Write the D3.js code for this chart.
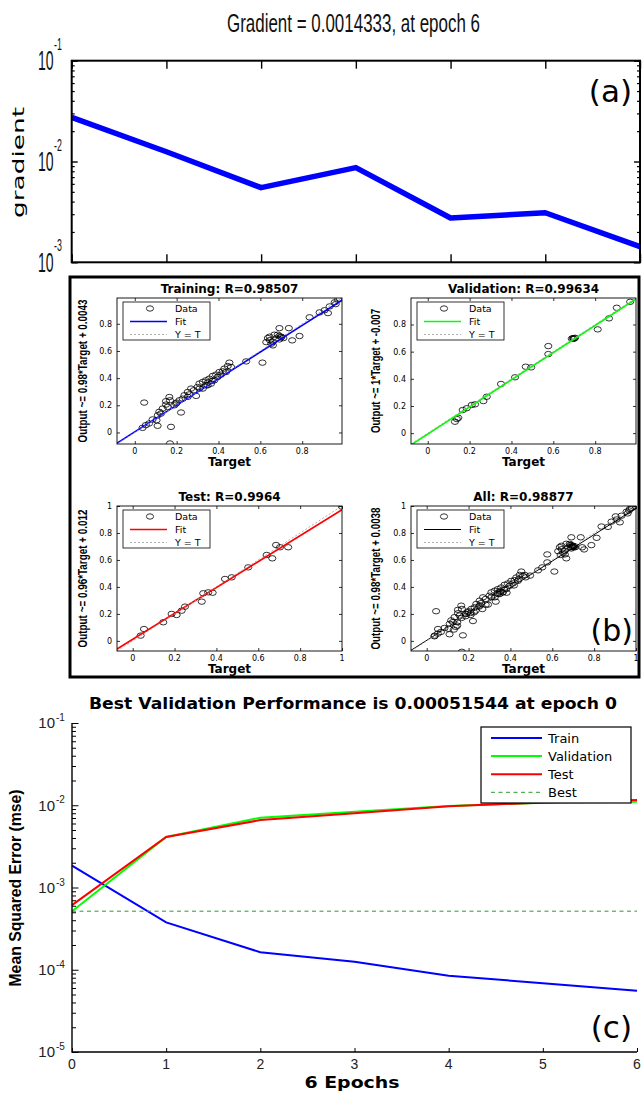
<!DOCTYPE html>
<html><head><meta charset="utf-8">
<script src="https://cdn.jsdelivr.net/npm/d3@7"></script>
<style>body{margin:0;background:#fff}svg{display:block}</style>
</head><body>
<script>
// ---------------- DATA ----------------
// (a) gradient
const gradEpochs = [0, 1, 2, 3, 4, 5, 6];
const gradValues = [0.0274, 0.0125, 0.0055, 0.0087, 0.00275, 0.0031, 0.0014333];
const gradMajor = [1e-3, 1e-2, 1e-1];
const gradMajorExp = ["-3", "-2", "-1"];
const gradTitle = "Gradient = 0.0014333, at epoch 6";

// (b) regression
const regTicks = [0, 0.2, 0.4, 0.6, 0.8, 1];
const regTickLabels = ["0", "0.2", "0.4", "0.6", "0.8", "1"];
const regTitles = ["Training: R=0.98507", "Validation: R=0.99634", "Test: R=0.9964", "All: R=0.98877"];
const regYLabels = ["Output ~= 0.98*Target + 0.0043", "Output ~= 1*Target + -0.007", "Output ~= 0.96*Target + 0.012", "Output ~= 0.98*Target + 0.0038"];
const fitSlope = [0.98, 1, 0.96, 0.98];
const fitIntercept = [0.0043, -0.007, 0.012, 0.0038];
const legendLabels = ["Data", "Fit", "Y = T"];

const trainTarget = [0.045,0.037,0.053,0.109,0.104,0.11,0.117,0.133,0.149,0.157,0.165,0.168,0.173,0.168,0.221,0.197,0.213,0.237,0.253,0.269,0.293,0.3,0.309,0.325,0.34,0.356,0.372,0.388,0.404,0.428,0.444,0.452,0.436,0.348,0.325,0.532,0.61,0.636,0.628,0.644,0.66,0.676,0.691,0.699,0.652,0.691,0.736,0.752,0.787,0.835,0.883,0.923,0.931,0.955,0.971,0.907,0.667,0.683,0.66,0.068,0.085,0.253,0.229,0.189,0.125,0.309,0.38,0.396,0.412,0.42,0.46,0.364,0.34,0.282,0.149,0.70,0.71,0.645,0.69,0.2,0.35,0.37,0.26,0.98,0.96];
const trainOutput = [0.22,0.034,0.054,0.049,0.09,0.127,0.152,0.176,0.205,0.188,0.261,0.237,0.041,-0.081,0.147,0.213,0.237,0.274,0.298,0.323,0.269,0.335,0.36,0.372,0.384,0.396,0.416,0.426,0.445,0.47,0.489,0.514,0.445,0.347,0.323,0.523,0.514,0.695,0.665,0.705,0.668,0.692,0.685,0.7,0.653,0.768,0.768,0.678,0.71,0.848,0.884,0.879,0.928,0.958,0.978,0.9,0.72,0.72,0.641,0.066,0.096,0.262,0.249,0.2,0.139,0.323,0.384,0.408,0.426,0.45,0.482,0.359,0.347,0.311,0.23,0.705,0.695,0.68,0.71,0.22,0.37,0.38,0.28,0.985,0.945];

const valTarget = [0.13,0.139,0.146,0.167,0.186,0.21,0.226,0.266,0.282,0.35,0.417,0.468,0.494,0.576,0.576,0.688,0.694,0.699,0.704,0.697,0.812,0.866,0.903,0.967];
const valOutput = [0.084,0.104,0.113,0.17,0.183,0.207,0.212,0.236,0.268,0.362,0.411,0.489,0.484,0.582,0.641,0.695,0.7,0.698,0.702,0.694,0.764,0.845,0.923,0.967];

const testTarget = [0.038,0.054,0.146,0.186,0.21,0.234,0.25,0.33,0.337,0.361,0.382,0.441,0.473,0.552,0.64,0.667,0.685,0.704,0.743,1.0];
const testOutput = [0.039,0.088,0.138,0.2,0.192,0.224,0.254,0.291,0.353,0.36,0.357,0.459,0.471,0.545,0.637,0.612,0.711,0.694,0.694,0.995];

// (c) performance
const perfEpochs = [0, 1, 2, 3, 4, 5, 6];
const trainMSE = [0.00184, 0.000377, 0.000163, 0.000125, 0.0000847, 0.0000685, 0.0000556];
const valMSE = [0.00051544, 0.00412, 0.00706, 0.00835, 0.0098, 0.01074, 0.0110];
const testMSE = [0.00061, 0.00412, 0.0066, 0.0080, 0.0097, 0.0108, 0.0116];
const bestPerf = 0.00051544;
const perfMajor = [1e-5, 1e-4, 1e-3, 1e-2, 1e-1];
const perfMajorExp = ["-5", "-4", "-3", "-2", "-1"];
const perfLegend = ["Train", "Validation", "Test", "Best"];
const perfTitle = "Best Validation Performance is 0.00051544 at epoch 0";

// ---------------- DRAW ----------------
const svg = d3.select("body").append("svg").attr("width", 642).attr("height", 1095);
const defs = svg.append("defs");
const frameList = [];

function tickAxis(g, axis, scale, vals, size, tx, ty, sw) {
  const a = axis(scale).tickValues(vals).tickSizeInner(-size).tickSizeOuter(0).tickFormat(() => "");
  const s = g.append("g").attr("transform", `translate(${tx},${ty})`).call(a);
  s.select(".domain").remove();
  s.selectAll(".tick text").remove();
  s.selectAll(".tick line").attr("stroke", "#000").attr("stroke-width", sw || 1);
  return s;
}
function supLabel(g, xRight, y, base, exp, bigSize, supSize, sx, dyBase, dySup, col) {
  const gg = g.append("g").attr("transform", `translate(${xRight},${y}) scale(${sx},1)`);
  gg.append("text").attr("x", 0).attr("y", dyBase).attr("text-anchor", "end")
    .attr("font-family", "Liberation Sans").attr("font-size", bigSize).attr("fill", col).text(base);
  gg.append("text").attr("x", 1).attr("y", dySup).attr("text-anchor", "start")
    .attr("font-family", "Liberation Sans").attr("font-size", supSize).attr("fill", col).text(exp);
}

// ===== Panel (a) =====
const gA = svg.append("g");
const A = { l: 71.7, r: 640, t: 60.7, b: 262.3 };
const xA = d3.scaleLinear().domain([0, 6]).range([A.l, A.r]);
const yA = d3.scaleLog().domain([1e-3, 1e-1]).range([A.b, A.t]);
const minA = yA.ticks().filter(v => !gradMajor.some(m => Math.abs(m - v) / m < 1e-6));

gA.append("path")
  .datum(gradEpochs.map((e, i) => [e, gradValues[i]]))
  .attr("fill", "none").attr("stroke", "#0000ff").attr("stroke-width", 5.5)
  .attr("stroke-linejoin", "round")
  .attr("d", d3.line().x(d => xA(d[0])).y(d => yA(d[1])));

tickAxis(gA, d3.axisLeft, yA, gradMajor, 6, A.l, 0, 1.4);
tickAxis(gA, d3.axisLeft, yA, minA, 3, A.l, 0, 1.2);
tickAxis(gA, d3.axisRight, yA, gradMajor, 6, A.r, 0, 1.4);
tickAxis(gA, d3.axisRight, yA, minA, 3, A.r, 0, 1.2);
tickAxis(gA, d3.axisBottom, xA, gradEpochs, 8, 0, A.b, 1.4);
tickAxis(gA, d3.axisTop, xA, gradEpochs, 8, 0, A.t, 1.4);
frameList.push({ x: A.l, y: A.t, w: A.r - A.l, h: A.b - A.t, sw: 2 });

gradMajor.forEach((m, i) => {
  supLabel(gA, 53.5, yA(m), "10", gradMajorExp[i], 27, 17, 0.52, 9.5, -11, "#111");
});

gA.append("text").attr("x", 227).attr("y", 32).attr("font-family", "Liberation Sans")
  .attr("font-size", 26).attr("textLength", 253).attr("lengthAdjust", "spacingAndGlyphs")
  .attr("fill", "#111").text(gradTitle);

gA.append("text").attr("transform", "translate(24,162.5) rotate(-90)").attr("text-anchor", "middle")
  .attr("font-family", "DejaVu Sans").attr("font-size", 16).attr("textLength", 111)
  .attr("lengthAdjust", "spacingAndGlyphs").attr("fill", "#000").text("gradient");

gA.append("text").attr("x", 632).attr("y", 102).attr("text-anchor", "end")
  .attr("font-family", "DejaVu Sans").attr("font-size", 31).attr("fill", "#000").text("(a)");

// ===== Panel (b) =====
const gB = svg.append("g");
frameList.push({ x: 70, y: 277, w: 569, h: 400, sw: 3 });

const allTarget = trainTarget.concat(valTarget, testTarget);
const allOutput = trainOutput.concat(valOutput, testOutput);

const subplots = [
  { x0: 117, x1: 342, y0: 298, y1: 444, dom: [-0.085, 0.99], T: trainTarget, O: trainOutput, color: "#0000ff", yl: 143, ylx: 87 },
  { x0: 411, x1: 636, y0: 298, y1: 444, dom: [-0.08, 0.995], T: valTarget, O: valOutput, color: "#00ff00", yl: 124, ylx: 380 },
  { x0: 117, x1: 342, y0: 506, y1: 651, dom: [-0.075, 1.0], T: testTarget, O: testOutput, color: "#ff0000", yl: 138, ylx: 87 },
  { x0: 411, x1: 636, y0: 506, y1: 651, dom: [-0.075, 1.0], T: allTarget, O: allOutput, color: "#000000", yl: 142, ylx: 380 }
];

subplots.forEach((p, i) => {
  const g = gB.append("g");
  const x = d3.scaleLinear().domain(p.dom).range([p.x0, p.x1]);
  const y = d3.scaleLinear().domain(p.dom).range([p.y1, p.y0]);
  const tv = regTicks.filter(v => v >= p.dom[0] - 1e-9 && v <= p.dom[1] + 1e-9);
  const cid = "clipb" + i;
  defs.append("clipPath").attr("id", cid).append("rect")
    .attr("x", p.x0).attr("y", p.y0).attr("width", p.x1 - p.x0).attr("height", p.y1 - p.y0);

  const pg = g.append("g").attr("clip-path", `url(#${cid})`);
  pg.selectAll("ellipse").data(p.T.map((t, k) => [t, p.O[k]])).join("ellipse")
    .attr("cx", d => x(d[0])).attr("cy", d => y(d[1])).attr("rx", 3.6).attr("ry", 2.7)
    .attr("fill", "none").attr("stroke", "#000").attr("stroke-width", 0.8);
  pg.append("line").attr("x1", x(p.dom[0])).attr("y1", y(fitSlope[i] * p.dom[0] + fitIntercept[i]))
    .attr("x2", x(p.dom[1])).attr("y2", y(fitSlope[i] * p.dom[1] + fitIntercept[i]))
    .attr("stroke", p.color).attr("stroke-width", i === 3 ? 1 : 1.6);
  pg.append("line").attr("x1", x(p.dom[0])).attr("y1", y(p.dom[0]))
    .attr("x2", x(p.dom[1])).attr("y2", y(p.dom[1]))
    .attr("stroke", "#999").attr("stroke-width", 0.8).attr("stroke-dasharray", "2,2");

  tickAxis(g, d3.axisLeft, y, tv, 3, p.x0, 0, 0.8);
  tickAxis(g, d3.axisRight, y, tv, 3, p.x1, 0, 0.8);
  tickAxis(g, d3.axisBottom, x, tv, 3, 0, p.y1, 0.8);
  tickAxis(g, d3.axisTop, x, tv, 3, 0, p.y0, 0.8);
  frameList.push({ x: p.x0, y: p.y0, w: p.x1 - p.x0, h: p.y1 - p.y0, sw: 0.9 });

  tv.forEach(v => {
    const lbl = regTickLabels[regTicks.indexOf(v)];
    g.append("text").attr("x", p.x0 - 5).attr("y", y(v) + 3).attr("text-anchor", "end")
      .attr("font-family", "DejaVu Sans").attr("font-size", 8).attr("fill", "#000").text(lbl);
    g.append("text").attr("x", x(v)).attr("y", p.y1 + 10).attr("text-anchor", "middle")
      .attr("font-family", "DejaVu Sans").attr("font-size", 8).attr("fill", "#000").text(lbl);
  });

  g.append("text").attr("x", (p.x0 + p.x1) / 2).attr("y", p.y0 - 5.5).attr("text-anchor", "middle")
    .attr("font-family", "DejaVu Sans").attr("font-weight", "bold").attr("font-size", 12)
    .attr("fill", "#000").text(regTitles[i]);
  g.append("text").attr("x", (p.x0 + p.x1) / 2).attr("y", p.y1 + 22).attr("text-anchor", "middle")
    .attr("font-family", "DejaVu Sans").attr("font-weight", "bold").attr("font-size", 12)
    .attr("fill", "#000").text("Target");
  g.append("text").attr("transform", `translate(${p.ylx},${(p.y0 + p.y1) / 2}) rotate(-90)`)
    .attr("text-anchor", "middle").attr("font-family", "Liberation Sans").attr("font-weight", "bold")
    .attr("font-size", 12).attr("textLength", p.yl).attr("lengthAdjust", "spacingAndGlyphs")
    .attr("fill", "#000").text(regYLabels[i]);

  const lx = p.x0 + 6, ly = p.y0 + 4;
  g.append("rect").attr("x", lx).attr("y", ly).attr("width", 87).attr("height", 38)
    .attr("fill", "#fff").attr("stroke", "#000").attr("stroke-width", 0.8);
  g.append("ellipse").attr("cx", lx + 27).attr("cy", ly + 6.5).attr("rx", 3.6).attr("ry", 2.7)
    .attr("fill", "none").attr("stroke", "#000").attr("stroke-width", 0.8);
  g.append("line").attr("x1", lx + 7).attr("x2", lx + 44).attr("y1", ly + 19.5).attr("y2", ly + 19.5)
    .attr("stroke", p.color).attr("stroke-width", i === 3 ? 1 : 1.6);
  g.append("line").attr("x1", lx + 7).attr("x2", lx + 44).attr("y1", ly + 32.5).attr("y2", ly + 32.5)
    .attr("stroke", "#999").attr("stroke-width", 0.8).attr("stroke-dasharray", "2,2");
  legendLabels.forEach((t, k) => {
    g.append("text").attr("x", lx + 52).attr("y", ly + 10 + k * 13.2)
      .attr("font-family", "DejaVu Sans").attr("font-size", 9.5).attr("fill", "#000").text(t);
  });
});

gB.append("text").attr("x", 633).attr("y", 641).attr("text-anchor", "end")
  .attr("font-family", "DejaVu Sans").attr("font-size", 30).attr("fill", "#000").text("(b)");

// ===== Panel (c) =====
const gC = svg.append("g");
const C = { l: 72, r: 637, t: 723, b: 1052 };
const xC = d3.scaleLinear().domain([0, 6]).range([C.l, C.r]);
const yC = d3.scaleLog().domain([1e-5, 1e-1]).range([C.b, C.t]);
const minC = yC.ticks().filter(v => !perfMajor.some(m => Math.abs(m - v) / m < 1e-6));

const lineC = d3.line().x(d => xC(d[0])).y(d => yC(d[1]));
const series = [
  { v: trainMSE, c: "#0000ff" },
  { v: valMSE, c: "#00ff00" },
  { v: testMSE, c: "#ff0000" }
];
series.forEach(s => {
  gC.append("path").datum(perfEpochs.map((e, i) => [e, s.v[i]]))
    .attr("fill", "none").attr("stroke", s.c).attr("stroke-width", 2).attr("d", lineC);
});
gC.append("path").datum([[0, bestPerf], [6, bestPerf]])
  .attr("fill", "none").attr("stroke", "#2a9a2a").attr("stroke-width", 1).attr("stroke-dasharray", "4,3.5")
  .attr("d", lineC);

tickAxis(gC, d3.axisLeft, yC, perfMajor, 6.5, C.l, 0, 1);
tickAxis(gC, d3.axisLeft, yC, minC, 4, C.l, 0, 1);
tickAxis(gC, d3.axisBottom, xC, perfEpochs, 4, 0, C.b, 1);

perfMajor.forEach((m, i) => {
  supLabel(gC, 55, yC(m), "10", perfMajorExp[i], 15, 10, 1, 5.3, -2, "#222");
});
perfEpochs.forEach(e => {
  gC.append("text").attr("x", xC(e)).attr("y", 1069).attr("text-anchor", "middle")
    .attr("font-family", "Liberation Sans").attr("font-size", 14).attr("fill", "#222").text(String(e));
});

gC.append("text").attr("x", 353).attr("y", 708.5).attr("text-anchor", "middle")
  .attr("font-family", "DejaVu Sans").attr("font-weight", "bold").attr("font-size", 15)
  .attr("textLength", 528).attr("lengthAdjust", "spacingAndGlyphs").attr("fill", "#000").text(perfTitle);
gC.append("text").attr("x", 352).attr("y", 1087.5).attr("text-anchor", "middle")
  .attr("font-family", "DejaVu Sans").attr("font-weight", "bold").attr("font-size", 16)
  .attr("textLength", 95).attr("lengthAdjust", "spacingAndGlyphs").attr("fill", "#000").text("6 Epochs");
gC.append("text").attr("transform", "translate(21,888) rotate(-90)").attr("text-anchor", "middle")
  .attr("font-family", "Liberation Sans").attr("font-weight", "bold").attr("font-size", 16)
  .attr("textLength", 197).attr("lengthAdjust", "spacingAndGlyphs").attr("fill", "#000")
  .text("Mean Squared Error  (mse)");

gC.append("rect").attr("x", 481).attr("y", 727).attr("width", 150).attr("height", 76)
  .attr("fill", "#fff").attr("stroke", "#000").attr("stroke-width", 1.2);
const legColors = ["#0000ff", "#00ff00", "#ff0000", "#2a9a2a"];
perfLegend.forEach((t, k) => {
  const yy = 738 + k * 18.1;
  gC.append("line").attr("x1", 491).attr("x2", 542).attr("y1", yy).attr("y2", yy)
    .attr("stroke", legColors[k]).attr("stroke-width", k === 3 ? 1 : 2)
    .attr("stroke-dasharray", k === 3 ? "4,3.5" : null);
  gC.append("text").attr("x", 548).attr("y", yy + 4.7).attr("font-family", "DejaVu Sans")
    .attr("font-size", 13).attr("fill", "#000").text(t);
});

gC.append("text").attr("x", 632).attr("y", 1038).attr("text-anchor", "end")
  .attr("font-family", "DejaVu Sans").attr("font-size", 31).attr("fill", "#000").text("(c)");

// ===== frames and (c) axis lines on top =====
const gF = svg.append("g");
frameList.forEach(f => {
  gF.append("rect").attr("x", f.x).attr("y", f.y).attr("width", f.w).attr("height", f.h)
    .attr("fill", "none").attr("stroke", "#000").attr("stroke-width", f.sw);
});
gF.append("path").attr("d", `M${C.l},${C.t}V${C.b}H${C.r}`)
  .attr("fill", "none").attr("stroke", "#000").attr("stroke-width", 1.4);
</script>
</body></html>
